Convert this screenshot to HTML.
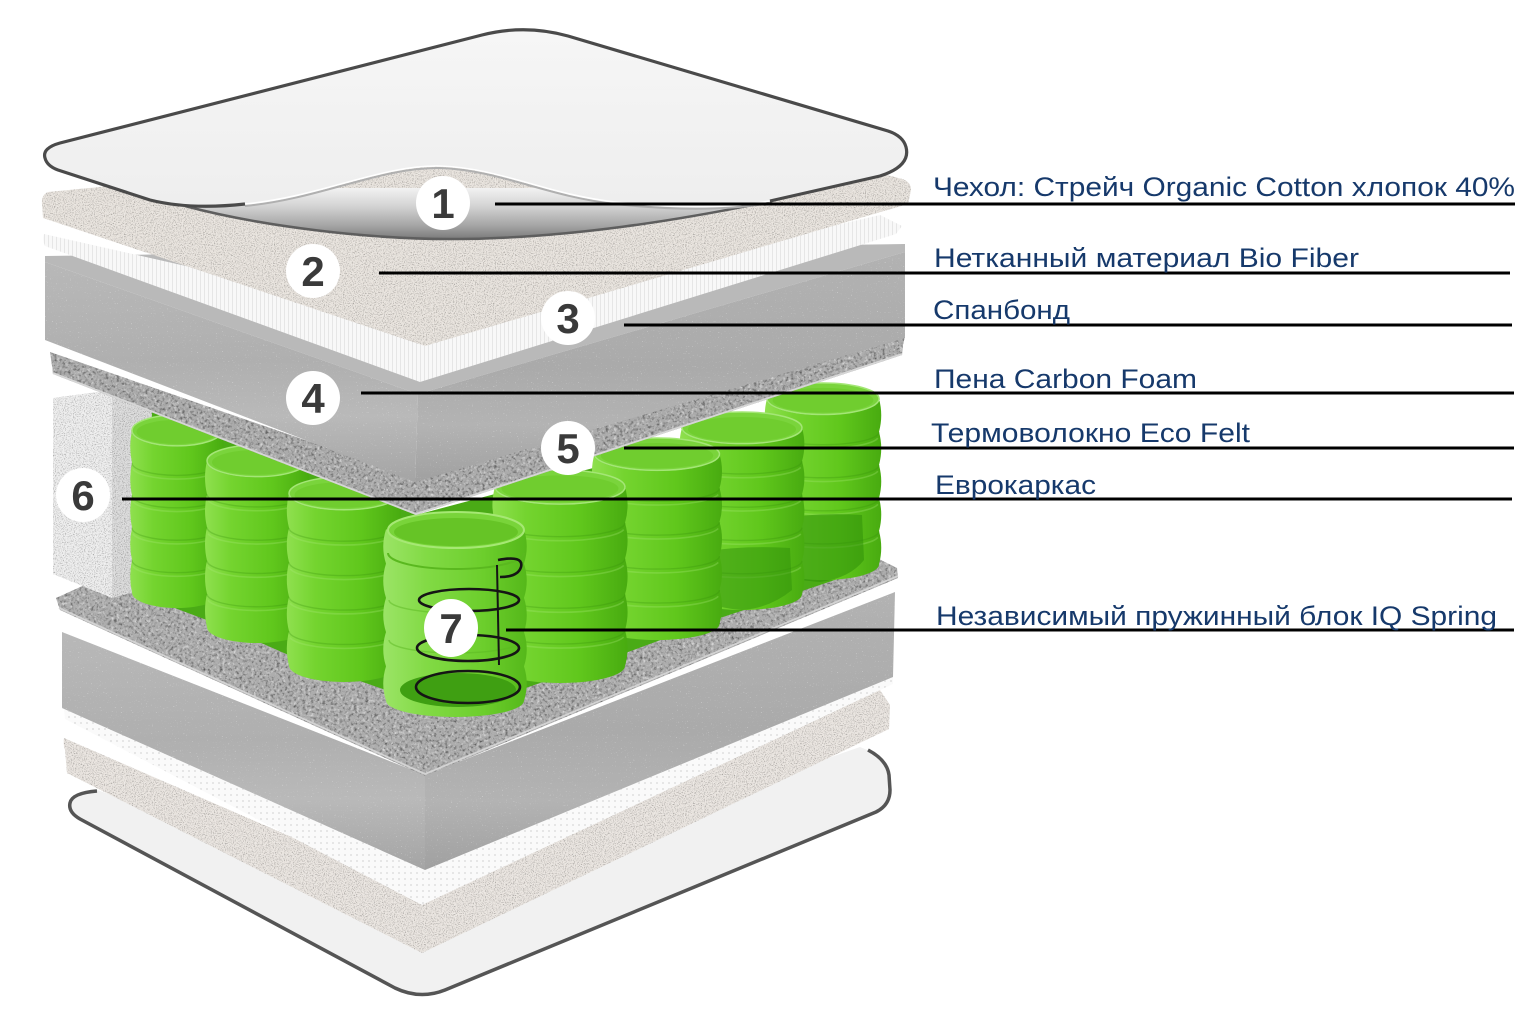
<!DOCTYPE html>
<html><head><meta charset="utf-8">
<style>
html,body{margin:0;padding:0;background:#fff;}
svg{display:block;}
</style></head>
<body>
<svg width="1536" height="1024" viewBox="0 0 1536 1024" xmlns="http://www.w3.org/2000/svg" xmlns:xlink="http://www.w3.org/1999/xlink">
<defs>
  <filter id="gr1" x="0%" y="0%" width="100%" height="100%" color-interpolation-filters="sRGB">
    <feTurbulence type="fractalNoise" baseFrequency="0.9" numOctaves="2" seed="3" result="t"/>
    <feColorMatrix in="t" type="matrix" values="0 0 0 0 0  0 0 0 0 0  0 0 0 0 0  1.0 0 0 0 -0.5" result="dk"/>
    <feComposite in="dk" in2="SourceAlpha" operator="in" result="dk2"/>
    <feColorMatrix in="t" type="matrix" values="0 0 0 0 1  0 0 0 0 1  0 0 0 0 1  0 -1.4 0 0 0.66" result="lt"/>
    <feComposite in="lt" in2="SourceAlpha" operator="in" result="lt2"/>
    <feMerge><feMergeNode in="SourceGraphic"/><feMergeNode in="dk2"/><feMergeNode in="lt2"/></feMerge>
  </filter>
  <filter id="gr2" x="0%" y="0%" width="100%" height="100%" color-interpolation-filters="sRGB">
    <feTurbulence type="fractalNoise" baseFrequency="0.35" numOctaves="3" seed="7" result="t"/>
    <feColorMatrix in="t" type="matrix" values="0 0 0 0 0  0 0 0 0 0  0 0 0 0 0  1.3 0 0 0 -0.64" result="dk"/>
    <feComposite in="dk" in2="SourceAlpha" operator="in" result="dk2"/>
    <feColorMatrix in="t" type="matrix" values="0 0 0 0 1  0 0 0 0 1  0 0 0 0 1  0 -1.5 0 0 0.74" result="lt"/>
    <feComposite in="lt" in2="SourceAlpha" operator="in" result="lt2"/>
    <feMerge><feMergeNode in="SourceGraphic"/><feMergeNode in="dk2"/><feMergeNode in="lt2"/></feMerge>
  </filter>
  <filter id="gr3" x="0%" y="0%" width="100%" height="100%" color-interpolation-filters="sRGB">
    <feTurbulence type="fractalNoise" baseFrequency="0.8" numOctaves="1" seed="11" result="t"/>
    <feColorMatrix in="t" type="matrix" values="0 0 0 0 1  0 0 0 0 1  0 0 0 0 1  4 0 0 0 -2.75" result="lt"/>
    <feComposite in="lt" in2="SourceAlpha" operator="in" result="lt2"/>
    <feMerge><feMergeNode in="SourceGraphic"/><feMergeNode in="lt2"/></feMerge>
  </filter>

  <linearGradient id="gCover" x1="0" y1="0" x2="0" y2="1">
    <stop offset="0" stop-color="#f6f6f6"/><stop offset="1" stop-color="#eeeeee"/>
  </linearGradient>
  <linearGradient id="gCurl" x1="0" y1="0" x2="0" y2="1">
    <stop offset="0" stop-color="#f2f2f2"/><stop offset="0.35" stop-color="#d4d4d4"/>
    <stop offset="0.75" stop-color="#a3a3a3"/><stop offset="1" stop-color="#7a7a7a"/>
  </linearGradient>
  <linearGradient id="gFoamL" x1="0" y1="0" x2="0" y2="1">
    <stop offset="0" stop-color="#b8b8b8"/><stop offset="0.45" stop-color="#afafaf"/>
    <stop offset="0.7" stop-color="#b9b9b9"/><stop offset="1" stop-color="#a4a4a4"/>
  </linearGradient>
  <linearGradient id="gFoamR" x1="0" y1="0" x2="0" y2="1">
    <stop offset="0" stop-color="#b2b2b2"/><stop offset="0.5" stop-color="#aaaaaa"/>
    <stop offset="0.75" stop-color="#b3b3b3"/><stop offset="1" stop-color="#a0a0a0"/>
  </linearGradient>
  <linearGradient id="gSpr" x1="0" y1="0" x2="1" y2="0">
    <stop offset="0" stop-color="#8fe04f"/><stop offset="0.25" stop-color="#74d42f"/>
    <stop offset="0.65" stop-color="#60c71c"/><stop offset="1" stop-color="#48ab10"/>
  </linearGradient>
  <linearGradient id="gSprD" x1="0" y1="0" x2="1" y2="0">
    <stop offset="0" stop-color="#9be466"/><stop offset="0.3" stop-color="#82da45"/>
    <stop offset="0.7" stop-color="#6cce2c"/><stop offset="1" stop-color="#55b81a"/>
  </linearGradient>
  <pattern id="pSb" width="4" height="4" patternUnits="userSpaceOnUse">
    <rect width="4" height="4" fill="#f8f8f8"/><rect width="1" height="4" fill="#e6e6e6"/>
  </pattern>
  <pattern id="pDots" width="6" height="6" patternUnits="userSpaceOnUse">
    <rect width="6" height="6" fill="#fafafa"/><circle cx="3" cy="3" r="1" fill="#e0e0e0"/>
  </pattern>

  <g id="spr">
    <path d="M-50,16Q-54,32.8-50,49.6Q-54,66.4-50,83.2Q-54,100-50,116.8Q-54,133.6-50,150.4Q-54,167.2-50,184A50,16 0 0 0 50,184Q54,167.2 50,150.4Q54,133.6 50,116.8Q54,100 50,83.2Q54,66.4 50,49.6Q54,32.8 50,16Z" fill="url(#gSpr)"/>
    <path d="M-50,49.6A50,13 0 0 0 50,49.6M-50,83.2A50,13 0 0 0 50,83.2M-50,116.8A50,13 0 0 0 50,116.8M-50,150.4A50,13 0 0 0 50,150.4" fill="none" stroke="#358f0b" stroke-width="1.4" opacity="0.28" vector-effect="non-scaling-stroke"/>
    <path d="M-49,56A50,13 0 0 0 49,56M-49,89.6A50,13 0 0 0 49,89.6M-49,123.2A50,13 0 0 0 49,123.2M-49,156.8A50,13 0 0 0 49,156.8" fill="none" stroke="#a9ea78" stroke-width="1.6" opacity="0.3" vector-effect="non-scaling-stroke"/>
    <path d="M-50,16A50,16 0 0 0 50,16" fill="none" stroke="#4aa914" stroke-width="1.5" vector-effect="non-scaling-stroke"/>
    <ellipse cx="0" cy="16" rx="50" ry="16" fill="#7ad43c"/>
    <ellipse cx="0" cy="17.5" rx="45" ry="12.5" fill="#70cd2f"/>
    <ellipse cx="0" cy="16" rx="50" ry="16" fill="none" stroke="#a4e676" stroke-width="1.5" vector-effect="non-scaling-stroke"/>
  </g>
</defs>

<rect width="1536" height="1024" fill="#fff"/>

<!-- ===== BOTTOM COVER ===== -->
<path d="M97,790 Q75,793 70,800 Q66,810 78,818 L395,988 Q420,1000 445,990 L878,812 Q892,805 889,790 L887,775 Q885,762 872,752 L860,747 L420,900 Z" fill="#f1f1f1"/>
<path d="M97,791 Q72,793 70,803 Q68,812 80,819 L395,988 Q420,1000 445,990 L876,812 Q890,805 890,790 L889,775 Q887,760 868,750" fill="none" stroke="#555" stroke-width="3.5" stroke-linejoin="round"/>

<!-- bottom beige -->
<path d="M64,738 Q63,745 65,750 L67,773 L422,953 L889,729 L890,705 L880,690 L425,895 Z" fill="#e9e4df" filter="url(#gr1)"/>
<!-- bottom spanbond -->
<path d="M64,709 L65,719 L422,905 L893,684 L893,674 L425,862 Z" fill="url(#pDots)"/>
<!-- bottom foam -->
<path d="M62,632 L425,775 L425,870 L62,708 Z" fill="url(#gFoamL)" filter="url(#gr3)"/>
<path d="M425,775 L895,592 L893,677 L425,870 Z" fill="url(#gFoamR)" filter="url(#gr3)"/>
<!-- lower felt -->
<path d="M56,598 L60,610 L425,776 L898,578 L897,568 L700,470 L140,560 Z" fill="#adadad" filter="url(#gr2)"/>
<path d="M59,608 L425,774 L898,576" fill="none" stroke="#d3d3d3" stroke-width="1.8"/>

<!-- spring backdrop -->
<path d="M138,405 L416,515 L868,395 L870,568 L820,585 L720,618 L620,655 L520,690 L400,695 L300,660 L220,625 L140,595 Z" fill="#4aab16"/>

<!-- block 6 (eurocarcass) -->
<path d="M112,390 L152,404 L150,588 L112,598 Z" fill="#dadada" filter="url(#gr1)"/>
<path d="M53,398 L112,390 L112,598 L53,574 Z" fill="#ededed" filter="url(#gr1)"/>

<!-- springs -->
<use xlink:href="#spr" href="#spr" transform="translate(177,415) scale(0.9,0.965)"/>
<use xlink:href="#spr" href="#spr" transform="translate(257,445) scale(1.0,0.99)"/>
<use xlink:href="#spr" href="#spr" transform="translate(344,477) scale(1.1,1.025)"/>
<use xlink:href="#spr" href="#spr" transform="translate(823,383) scale(1.12,0.985)"/>
<path d="M772,520 Q815,512 862,515 L864,560 Q850,578 820,582 Q790,580 772,572 Z" fill="#2f900a" opacity="0.55"/>
<use xlink:href="#spr" href="#spr" transform="translate(742,412) scale(1.2,0.99)"/>
<path d="M700,552 Q745,545 790,548 L792,590 Q770,608 742,610 Q715,608 700,598 Z" fill="#2f900a" opacity="0.5"/>
<use xlink:href="#spr" href="#spr" transform="translate(657,438) scale(1.25,1.01)"/>
<use xlink:href="#spr" href="#spr" transform="translate(560,470) scale(1.3,1.065)"/>

<!-- spring D (front, transparent with coil) -->
<g transform="translate(455,513) scale(1.38,1.02)">
  <path d="M-50,16Q-54,32.8-50,49.6Q-54,66.4-50,83.2Q-54,100-50,116.8Q-54,133.6-50,150.4Q-54,167.2-50,184A50,16 0 0 0 50,184Q54,167.2 50,150.4Q54,133.6 50,116.8Q54,100 50,83.2Q54,66.4 50,49.6Q54,32.8 50,16Z" fill="url(#gSprD)"/>
</g>
<ellipse cx="458" cy="690" rx="58" ry="17" fill="#3f9f12"/>
<path d="M388,553 A68,16 0 0 0 524,553" fill="none" stroke="#5ab81f" stroke-width="2"/>
<path d="M389,600 A67,13 0 0 0 523,600 M389,640 A67,13 0 0 0 523,640" fill="none" stroke="#5cb822" stroke-width="1.4" opacity="0.5"/>
<g fill="none" stroke="#151515" stroke-width="2.6">
  <ellipse cx="468" cy="687" rx="52" ry="16"/>
  <ellipse cx="468" cy="648" rx="51" ry="13"/>
  <ellipse cx="469" cy="600" rx="50" ry="11"/>
  <path d="M498,560 Q524,555 521,567 Q518,577 500,577"/>
  <path d="M497,565 L499,665" stroke-width="2"/>
</g>
<ellipse cx="456" cy="530" rx="68" ry="18" fill="#79d43a"/>
<ellipse cx="456" cy="532" rx="62" ry="14" fill="#66c426"/>
<ellipse cx="456" cy="530" rx="68" ry="18" fill="none" stroke="#a6e874" stroke-width="2"/>

<!-- ===== TOP LAYERS ===== -->
<!-- felt 5 -->
<path d="M50,352 L52,366 L53,374 L416,515 L902,355 L903,345 L905,336 L415,478 Z" fill="#ababab" filter="url(#gr2)"/>
<path d="M53,373 L416,514 L902,354" fill="none" stroke="#d6d6d6" stroke-width="1.8"/>

<!-- foam 4 -->
<path d="M45,256 L905,244 L905,252 L418,394 L45,262 Z" fill="#b9b9b9"/>
<path d="M45,262 L418,394 L415,482 L45,340 Z" fill="url(#gFoamL)" filter="url(#gr3)"/>
<path d="M418,394 L905,252 L905,338 L415,482 Z" fill="url(#gFoamR)" filter="url(#gr3)"/>

<!-- spanbond 3 -->
<path d="M44,234 Q42,240 45,246 L420,382 L896,234 L902,226 L880,215 L425,320 Z" fill="url(#pSb)"/>

<!-- beige 2 -->
<path d="M48,192 Q41,195 42,204 L43,218 L425,346 L908,204 L911,190 Q911,180 898,178 L870,170 L200,150 L120,185 Z" fill="#e8e3dd" filter="url(#gr1)"/>

<!-- cover curl -->
<path d="M185,206 C260,226 370,240 460,239 C570,238 680,220 772,201 L772,188 L185,188 Z" fill="url(#gCurl)"/>
<path d="M185,206 C260,226 370,240 460,239 C570,238 680,220 772,201" fill="none" stroke="#5e5e5e" stroke-width="2.5"/>
<!-- cover 1 -->
<path d="M60,143 Q42,148 45,158 Q47,166 58,170 L150,200 Q190,210 245,204 C320,197 380,165 440,166 C500,168 545,194 615,202 C680,209 730,208 770,201 L880,176 Q911,166 906,147 Q903,136 888,131 L568,36 Q525,24 482,35 Z" fill="url(#gCover)"/>
<path d="M245,206 C320,199 380,167 440,168 C500,170 545,196 615,204 C680,211 730,210 770,203" fill="none" stroke="#b0b0b0" stroke-width="2"/>
<path d="M245,204 C320,197 380,165 440,166 C500,168 545,194 615,202 C680,209 730,208 770,201" fill="none" stroke="#ffffff" stroke-width="1.6"/>
<path d="M245,204 Q190,210 150,200 L58,170 Q47,166 45,158 Q42,148 60,143 L482,35 Q525,24 568,36 L888,131 Q903,136 906,147 Q911,166 880,176 L770,201" fill="none" stroke="#4a4a4a" stroke-width="3.2" stroke-linejoin="round"/>

<!-- ===== LEADER LINES ===== -->
<g stroke="#000" stroke-width="3">
  <line x1="495" y1="204" x2="1515" y2="204"/>
  <line x1="379" y1="273" x2="1510" y2="273"/>
  <line x1="624" y1="325" x2="1512" y2="325"/>
  <line x1="361" y1="393" x2="1514" y2="393"/>
  <line x1="624" y1="448" x2="1514" y2="448"/>
  <line x1="122" y1="499" x2="1512" y2="499"/>
  <line x1="506" y1="630" x2="1514" y2="630"/>
</g>

<!-- ===== NUMBER BADGES ===== -->
<g font-family="'Liberation Sans', Arial, sans-serif" font-weight="bold" font-size="42" fill="#3a3a3a" text-anchor="middle">
  <circle cx="443" cy="203" r="27" fill="#fff"/><text x="443" y="218">1</text>
  <circle cx="313" cy="271" r="27" fill="#fff"/><text x="313" y="286">2</text>
  <circle cx="568" cy="318" r="27" fill="#fff"/><text x="568" y="333">3</text>
  <circle cx="313" cy="398" r="27" fill="#fff"/><text x="313" y="413">4</text>
  <circle cx="568" cy="448" r="27" fill="#fff"/><text x="568" y="463">5</text>
  <circle cx="83" cy="495" r="27" fill="#fff"/><text x="83" y="510">6</text>
  <ellipse cx="451" cy="628" rx="27" ry="29" fill="#fff"/><text x="451" y="643">7</text>
</g>

<!-- ===== LABELS ===== -->
<g font-family="'Liberation Sans', Arial, sans-serif" font-size="27" fill="#16396b">
  <text x="933" y="196" textLength="582" lengthAdjust="spacingAndGlyphs">Чехол: Стрейч Organic Cotton хлопок 40%</text>
  <text x="934" y="267" textLength="425" lengthAdjust="spacingAndGlyphs">Нетканный материал Bio Fiber</text>
  <text x="933" y="319" textLength="137" lengthAdjust="spacingAndGlyphs">Спанбонд</text>
  <text x="934" y="388" textLength="263" lengthAdjust="spacingAndGlyphs">Пена Carbon Foam</text>
  <text x="931" y="442" textLength="319" lengthAdjust="spacingAndGlyphs">Термоволокно Eco Felt</text>
  <text x="935" y="494" textLength="161" lengthAdjust="spacingAndGlyphs">Еврокаркас</text>
  <text x="936" y="625" textLength="561" lengthAdjust="spacingAndGlyphs">Независимый пружинный блок IQ Spring</text>
</g>
</svg>
</body></html>
